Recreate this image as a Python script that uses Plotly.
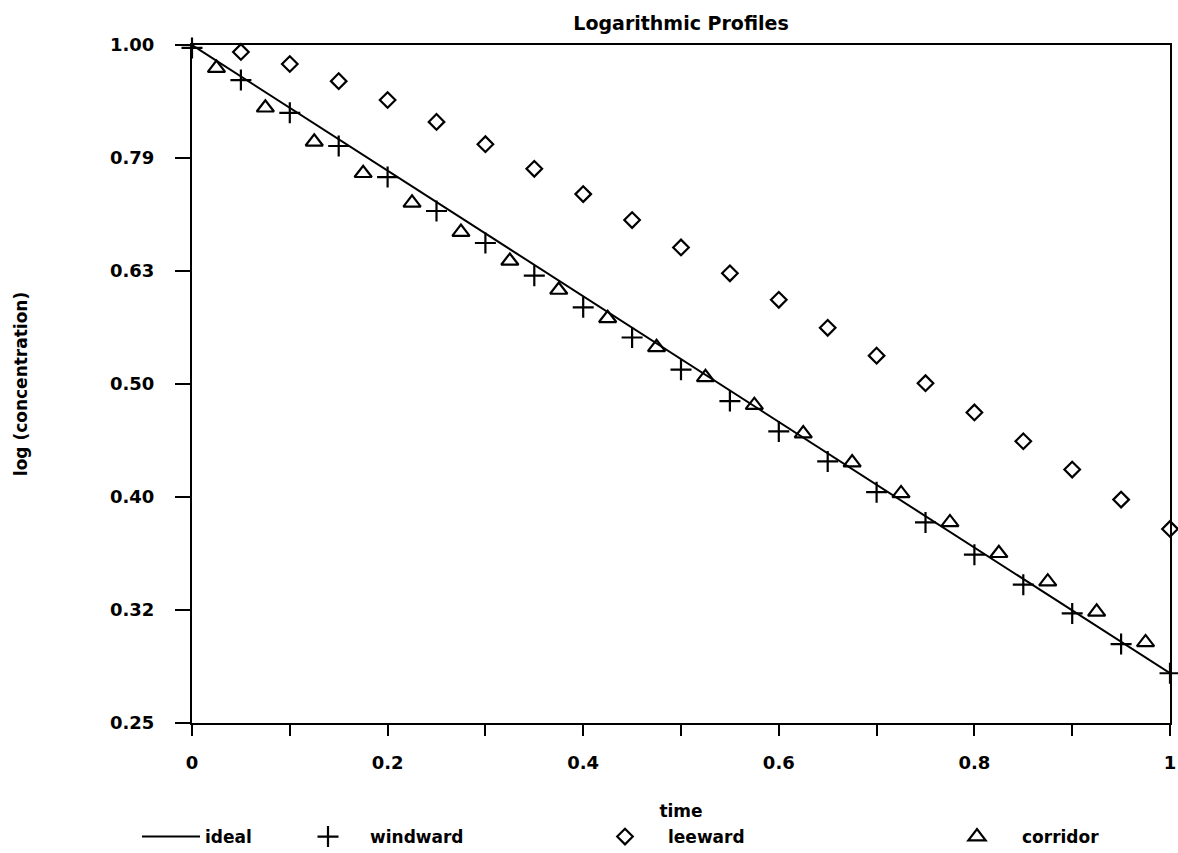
import plotly.graph_objects as go

# ---- data ----
ideal_t = [0.0, 1.0]
ideal_c = [1.0, 0.278]

windward_t = [0.0, 0.05, 0.1, 0.15, 0.2, 0.25, 0.3, 0.35, 0.4, 0.45, 0.5,
              0.55, 0.6, 0.65, 0.7, 0.75, 0.8, 0.85, 0.9, 0.95, 1.0]
windward_c = [0.994, 0.931, 0.871, 0.814, 0.764, 0.713, 0.668, 0.625, 0.586, 0.551, 0.516,
              0.484, 0.455, 0.428, 0.402, 0.378, 0.354, 0.333, 0.314, 0.295, 0.278]

leeward_t = [0.05, 0.1, 0.15, 0.2, 0.25, 0.3, 0.35, 0.4, 0.45, 0.5,
             0.55, 0.6, 0.65, 0.7, 0.75, 0.8, 0.85, 0.9, 0.95, 1.0]
leeward_c = [0.986, 0.962, 0.929, 0.894, 0.855, 0.817, 0.777, 0.738, 0.700, 0.662,
             0.628, 0.595, 0.562, 0.531, 0.502, 0.473, 0.446, 0.421, 0.396, 0.373]

corridor_t = [0.025, 0.075, 0.125, 0.175, 0.225, 0.275, 0.325, 0.375, 0.425, 0.475,
              0.525, 0.575, 0.625, 0.675, 0.725, 0.775, 0.825, 0.875, 0.925, 0.975]
corridor_c = [0.954, 0.880, 0.821, 0.770, 0.725, 0.683, 0.644, 0.607, 0.573, 0.540,
              0.508, 0.480, 0.453, 0.427, 0.401, 0.378, 0.355, 0.335, 0.315, 0.296]

x_tick_vals = [0.0, 0.1, 0.2, 0.3, 0.4, 0.5, 0.6, 0.7, 0.8, 0.9, 1.0]
x_tick_text = ["0", "", "0.2", "", "0.4", "", "0.6", "", "0.8", "", "1"]
y_tick_exps = [-0.6, -0.5, -0.4, -0.3, -0.2, -0.1, 0.0]
y_tick_text = ["0.25", "0.32", "0.40", "0.50", "0.63", "0.79", "1.00"]
y_tick_vals = [10 ** e for e in y_tick_exps]

FONT = "DejaVu Sans"
BOLD = dict(family=FONT, size=17, color="black", weight="bold")
BIG = dict(family=FONT, size=18, color="black", weight="bold")
TITLE = dict(family=FONT, size=19, color="black", weight="bold")

fig = go.Figure()
fig.add_trace(go.Scatter(x=ideal_t, y=ideal_c, mode="lines", name="ideal",
                         line=dict(color="black", width=2), legend="legend",
                         showlegend=True))
fig.add_trace(go.Scatter(x=windward_t, y=windward_c, mode="markers", name="windward",
                         marker=dict(symbol="cross-thin", size=15, color="black",
                                     line=dict(color="black", width=2.2)),
                         cliponaxis=False, legend="legend2", showlegend=True))
fig.add_trace(go.Scatter(x=leeward_t, y=leeward_c, mode="markers", name="leeward",
                         marker=dict(symbol="diamond-open", size=12, color="black",
                                     line=dict(color="black", width=2.2)),
                         cliponaxis=False, legend="legend3", showlegend=True))
fig.add_trace(go.Scatter(x=corridor_t, y=corridor_c, mode="markers", name="corridor",
                         marker=dict(symbol="triangle-up-open", size=15, color="black",
                                     line=dict(color="black", width=2.2)),
                         cliponaxis=False, legend="legend4", showlegend=True))

W, H = 1178, 853
L, R, T, B = 192, 8, 45, 130
pw, ph = W - L - R, H - T - B

def px_x(p):
    return (p - L) / pw

def px_y(p):
    return (H - B - p) / ph

def leg(left_px, w):
    return dict(orientation="h", bgcolor="rgba(0,0,0,0)", borderwidth=0,
                font=BOLD, yanchor="middle", xanchor="left", itemwidth=w,
                x=px_x(left_px), y=px_y(837))

fig.update_layout(
    width=W, height=H,
    margin=dict(l=L, r=R, t=T, b=B, autoexpand=False),
    paper_bgcolor="white", plot_bgcolor="white",
    font=BOLD,
    showlegend=True,
    title=dict(text="Logarithmic Profiles", x=px_x((L + W - R) / 2), xref="paper",
               xanchor="center", y=1 - 23 / H, yanchor="middle", font=TITLE),
    xaxis=dict(range=[0, 1], tickvals=x_tick_vals, ticktext=x_tick_text,
               ticks="outside", ticklen=11, tickwidth=2, tickcolor="black",
               showline=True, linewidth=2, linecolor="black", mirror=True,
               showgrid=False, zeroline=False, tickfont=BIG,
               ticklabelstandoff=11, ticklabeloverflow="allow",
               title=dict(text="time", font=BOLD, standoff=34)),
    yaxis=dict(type="log", range=[-0.6, 0], tickvals=y_tick_vals, ticktext=y_tick_text,
               ticks="outside", ticklen=15, tickwidth=2, tickcolor="black",
               showline=True, linewidth=2, linecolor="black", mirror=True,
               showgrid=False, zeroline=False, tickfont=BIG,
               ticklabelstandoff=17,
               title=dict(text="log (concentration)", font=BOLD, standoff=78)),
    legend=leg(137, 58),
    legend2=leg(286, 74),
    legend3=leg(582, 76),
    legend4=leg(932, 80),
)

fig.write_html("out.html")
